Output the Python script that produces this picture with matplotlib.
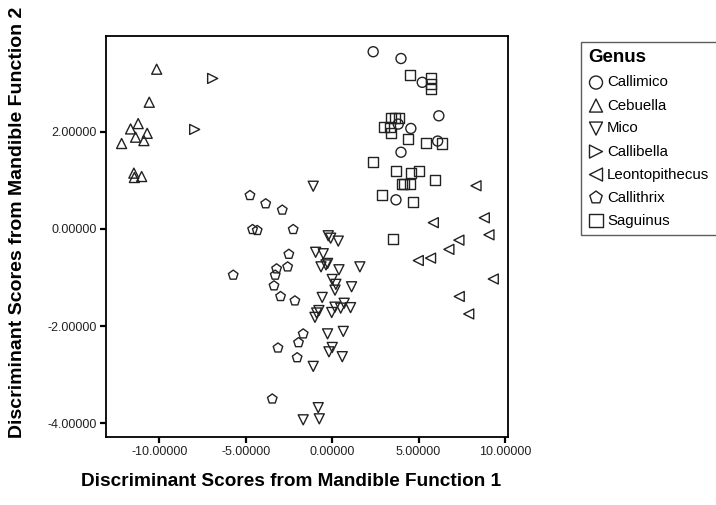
"""
Discriminant scores (mandible functions 1 and 2) by genus, SPSS-style scatter.
"""

import matplotlib
matplotlib.use("Agg")
import matplotlib.pyplot as plt

plt.rcParams["font.family"] = ["Liberation Sans", "DejaVu Sans"]

# (function 1, function 2) scores
callimico_x = [2.37, 3.98, 5.21, 6.17, 3.82, 4.55, 6.10, 3.98, 3.69]
callimico_y = [3.65, 3.51, 3.02, 2.33, 2.16, 2.07, 1.81, 1.58, 0.60]

cebuella_x = [-10.16, -10.59, -11.23, -11.67, -10.71, -11.38, -10.90, -12.19,
              -11.48, -11.45, -11.03]
cebuella_y = [3.29, 2.61, 2.17, 2.06, 1.97, 1.89, 1.82, 1.76, 1.15, 1.06, 1.08]

mico_x = [-1.10, -0.23, -0.09, 0.35, -0.96, -0.52, -0.27, -0.36, -0.65, 1.60,
          0.39, 0.00, 0.21, 0.16, 1.12, -0.58, 0.69, 0.16, 0.49, 1.06, -0.77,
          -0.03, -0.90, -1.00, 0.64, -0.27, 0.00, -0.19, 0.58, -1.10, -0.81,
          -1.68, -0.75]
mico_y = [0.88, -0.14, -0.19, -0.25, -0.48, -0.51, -0.71, -0.74, -0.78, -0.78,
          -0.84, -1.04, -1.14, -1.26, -1.19, -1.41, -1.53, -1.61, -1.63, -1.62,
          -1.68, -1.72, -1.73, -1.82, -2.11, -2.16, -2.44, -2.53, -2.63, -2.83,
          -3.68, -3.93, -3.91]

callibella_x = [-6.92, -7.96]
callibella_y = [3.10, 2.05]

leonto_x = [8.32, 8.80, 5.85, 9.07, 7.33, 6.75, 5.69, 4.98, 9.32, 7.35, 7.90]
leonto_y = [0.89, 0.23, 0.13, -0.12, -0.23, -0.42, -0.60, -0.65, -1.03, -1.39,
            -1.75]

callithrix_x = [-4.76, -3.85, -2.89, -4.61, -4.34, -2.26, -2.51, -2.58, -3.22,
                -3.30, -5.73, -3.37, -2.99, -2.16, -1.68, -1.95, -3.14, -2.03,
                -3.47]
callithrix_y = [0.69, 0.52, 0.39, -0.01, -0.03, -0.01, -0.52, -0.78, -0.82,
                -0.95, -0.95, -1.17, -1.39, -1.48, -2.16, -2.34, -2.45, -2.65,
                -3.50]

saguinus_x = [4.50, 5.71, 5.71, 5.71, 3.38, 3.63, 3.88, 3.01, 3.34, 3.38, 4.40,
              5.40, 6.33, 2.37, 3.69, 4.55, 5.02, 5.94, 4.02, 4.15, 4.50, 2.86,
              4.65, 3.49]
saguinus_y = [3.17, 3.11, 2.98, 2.88, 2.28, 2.28, 2.28, 2.09, 2.10, 1.97, 1.85,
              1.78, 1.76, 1.37, 1.20, 1.15, 1.20, 1.01, 0.92, 0.92, 0.92, 0.69,
              0.56, -0.21]

genera = ["Callimico", "Cebuella", "Mico", "Callibella", "Leontopithecus",
          "Callithrix", "Saguinus"]
markers = ["o", "^", "v", ">", "<", "p", "s"]
series = [
    (callimico_x, callimico_y),
    (cebuella_x, cebuella_y),
    (mico_x, mico_y),
    (callibella_x, callibella_y),
    (leonto_x, leonto_y),
    (callithrix_x, callithrix_y),
    (saguinus_x, saguinus_y),
]

xticks = [-10, -5, 0, 5, 10]
yticks = [-4, -2, 0, 2]

W, H = 716, 505
fig = plt.figure(figsize=(W / 100, H / 100), dpi=100)
ax = fig.add_axes([105.7 / W, 1 - 437.3 / H, (508.3 - 105.7) / W, (437.3 - 35.7) / H])

for name, mk, (xs, ys) in zip(genera, markers, series):
    ax.scatter(xs, ys, marker=mk, s=52, facecolors="none", edgecolors="#222222",
               linewidths=1.0, label=name)

ax.set_xlim(-13.11, 10.19)
ax.set_ylim(-4.29, 3.98)
ax.set_xticks(xticks)
ax.set_yticks(yticks)
ax.set_xticklabels([f"{v:.5f}" for v in xticks])
ax.set_yticklabels([f"{v:.5f}" for v in yticks])
ax.tick_params(direction="out", length=4.5, width=1.6, labelsize=9,
               labelcolor="#222222", pad=2)
for sp in ax.spines.values():
    sp.set_linewidth(1.3)

fig.text(291 / W, 1 - 481 / H, "Discriminant Scores from Mandible Function 1",
         ha="center", va="center", fontsize=13.7, fontweight="bold")
fig.text(18 / W, 1 - 222 / H, "Discriminant Scores from Mandible Function 2",
         ha="center", va="center", rotation=90, fontsize=14, fontweight="bold")

leg = fig.legend(loc="upper left", bbox_to_anchor=(581 / W, 1 - 42 / H),
                 title="Genus", fontsize=10.8, frameon=True, fancybox=False,
                 alignment="left", handletextpad=0.25, handlelength=1.0,
                 labelspacing=0.6, borderpad=0.5, borderaxespad=0,
                 markerscale=1.3)
leg.get_title().set_fontweight("bold")
leg.get_title().set_fontsize(13.5)
leg.get_frame().set_edgecolor("#333333")
leg.get_frame().set_linewidth(1.0)

fig.savefig("out.png", dpi=100)
